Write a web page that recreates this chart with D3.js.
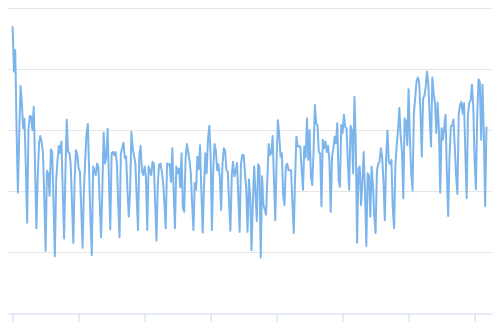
<!DOCTYPE html>
<html>
<head>
<meta charset="utf-8">
<script src="https://cdn.jsdelivr.net/npm/d3@7"></script>
<style>
  html, body { margin: 0; padding: 0; background: #fff; }
  svg { display: block; font-family: "Lucida Grande", "DejaVu Sans", sans-serif; }
</style>
</head>
<body>
<svg id="chart" width="500" height="333"></svg>
<script>
// daily values (one per day)
const values = [
  469, 396, 431, 300, 197, 290, 372, 345, 303, 318,
  240, 148, 300, 323, 322, 300, 338, 240, 139, 220,
  278, 290, 280, 262, 190, 102, 233, 229, 192, 268,
  264, 180, 93, 218, 250, 274, 262, 281, 200, 122,
  230, 317, 265, 262, 245, 180, 115, 220, 267, 259,
  237, 232, 170, 107, 200, 251, 294, 310, 230, 150,
  95, 240, 234, 226, 245, 240, 180, 124, 204, 296,
  245, 256, 302, 213, 137, 262, 264, 259, 264, 245,
  180, 124, 262, 270, 279, 254, 257, 202, 158, 200,
  297, 270, 258, 245, 190, 136, 260, 274, 232, 226,
  240, 223, 136, 240, 234, 226, 248, 245, 180, 119,
  213, 243, 245, 232, 215, 180, 139, 245, 243, 244,
  215, 270, 200, 139, 240, 229, 237, 206, 262, 172,
  166, 250, 277, 265, 250, 230, 180, 136, 213, 202,
  256, 236, 275, 200, 132, 207, 262, 229, 284, 307,
  262, 136, 234, 277, 267, 234, 244, 221, 169, 245,
  270, 266, 234, 232, 180, 135, 224, 248, 224, 232,
  246, 190, 133, 245, 259, 259, 232, 202, 133, 219,
  191, 103, 180, 240, 196, 151, 244, 240, 91, 224,
  177, 170, 161, 220, 277, 259, 262, 290, 218, 152,
  250, 316, 292, 256, 262, 191, 177, 240, 245, 234,
  234, 234, 180, 131, 220, 289, 273, 274, 272, 234,
  202, 273, 255, 319, 251, 300, 224, 210, 264, 341,
  311, 307, 264, 262, 175, 284, 270, 281, 264, 274,
  250, 166, 256, 270, 289, 278, 311, 218, 207, 308,
  295, 325, 305, 303, 245, 202, 307, 300, 229, 354,
  278, 115, 237, 240, 177, 215, 264, 196, 110, 229,
  225, 158, 240, 210, 160, 131, 232, 245, 248, 270,
  256, 213, 152, 254, 299, 248, 244, 251, 174, 139,
  243, 275, 300, 336, 290, 264, 188, 319, 314, 275,
  367, 286, 230, 201, 327, 352, 379, 386, 379, 330,
  256, 352, 356, 371, 396, 374, 320, 273, 386, 360,
  344, 295, 345, 300, 197, 303, 284, 304, 325, 229,
  159, 256, 306, 307, 317, 273, 224, 195, 326, 341,
  346, 327, 344, 262, 188, 325, 345, 348, 374, 338,
  251, 203, 322, 383, 378, 284, 374, 295, 175, 304
];
const xTicks = [0, 50, 100, 150, 200, 250, 300, 350];
const yTicks = [100, 200, 300, 400, 500];

const svg = d3.select("#chart");
const plot = { left: 8, right: 492, top: 8, bottom: 313 };

// a little padding either side of the series, like the original
const x = d3.scaleLinear().domain([-3.5, values.length + 3.2]).range([plot.left, plot.right]);
const y = d3.scaleLinear().domain([0, 500]).range([plot.bottom, plot.top]);

// horizontal grid
svg.append("g")
  .selectAll("line")
  .data(yTicks)
  .join("line")
  .attr("x1", plot.left).attr("x2", plot.right)
  .attr("y1", d => Math.round(y(d)) + 0.5).attr("y2", d => Math.round(y(d)) + 0.5)
  .attr("stroke", "#e6e6e6");

// x axis, no labels
const xAxis = svg.append("g")
  .attr("transform", `translate(0,${plot.bottom + 0.5})`)
  .call(d3.axisBottom(x).tickValues(xTicks).tickSize(8).tickSizeOuter(0).tickFormat(""));
xAxis.select(".domain").attr("stroke", "#ccd6eb");
xAxis.selectAll(".tick line").attr("stroke", "#ccd6eb");

// series
const line = d3.line()
  .x((d, i) => x(i))
  .y(d => y(d));

svg.append("path")
  .datum(values)
  .attr("d", line)
  .attr("fill", "none")
  .attr("stroke", "#7cb5ec")
  .attr("stroke-width", 2)
  .attr("stroke-linejoin", "round")
  .attr("stroke-linecap", "round");
</script>
</body>
</html>
